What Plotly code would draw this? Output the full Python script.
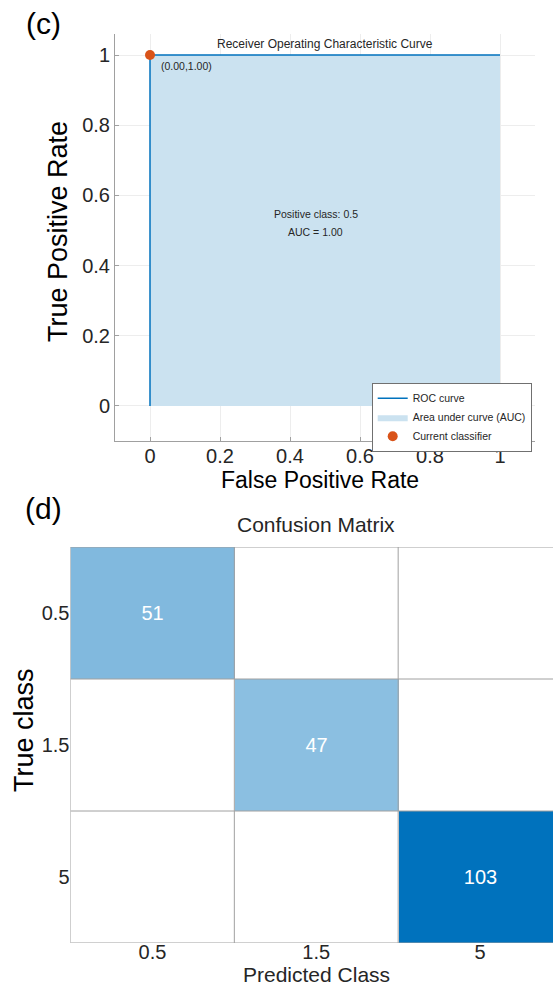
import plotly.graph_objects as go

W, H = 553, 987
FONT = "Liberation Sans, Arial, sans-serif"

# ROC data
fpr = [0.0, 0.0, 1.0]
tpr = [0.0, 1.0, 1.0]
current_fpr = [0.0]
current_tpr = [1.0]
auc_value = 1.00
positive_class = "0.5"

# Confusion matrix data
classes = ["0.5", "1.5", "5"]
cm = [[51, 0, 0],
      [0, 47, 0],
      [0, 0, 103]]

def px_x(p):
    return p / W

def px_y(p):
    return 1 - p / H

fig = go.Figure()

# ROC
fig.add_trace(go.Scatter(x=fpr, y=tpr, mode="lines", fill="tozeroy",
                         fillcolor="#CBE2F0", line=dict(width=0, color="#CBE2F0"),
                         name="Area under curve (AUC)", xaxis="x", yaxis="y",
                         hoverinfo="skip", legendrank=2))
fig.add_trace(go.Scatter(x=fpr, y=tpr, mode="lines", line=dict(color="#0072BD", width=1.5),
                         name="ROC curve", xaxis="x", yaxis="y", legendrank=1))
fig.add_trace(go.Scatter(x=current_fpr, y=current_tpr, mode="markers",
                         marker=dict(color="#D95319", size=10),
                         name="Current classifier", xaxis="x", yaxis="y", legendrank=3))

# Confusion matrix
idx = list(range(len(classes)))
text = [[str(v) if v > 0 else "" for v in row] for row in cm]
fig.add_trace(go.Heatmap(z=cm, x=idx, y=idx, zmin=0, zmax=max(max(r) for r in cm),
                         colorscale=[[0, "#FFFFFF"], [1, "#0072BD"]], showscale=False,
                         text=text, texttemplate="%{text}",
                         textfont=dict(color="white", size=20, family=FONT),
                         xaxis="x2", yaxis="y2", showlegend=False))

# cell borders
n = len(classes)
for k in range(n + 1):
    b = k - 0.5
    fig.add_shape(type="line", x0=b, x1=b, y0=-0.5, y1=n - 0.5, xref="x2", yref="y2",
                  line=dict(color="#A0A0A0", width=1))
    fig.add_shape(type="line", x0=-0.5, x1=n - 0.5, y0=b, y1=b, xref="x2", yref="y2",
                  line=dict(color="#A0A0A0", width=1))

roc_axis = dict(showline=True, linecolor="#A0A0A0", linewidth=1, ticks="inside",
                ticklen=4, tickcolor="#A0A0A0", showgrid=True, gridcolor="#EDEDED",
                zeroline=False, tickfont=dict(size=20, color="#262626", family=FONT),
                dtick=0.2, tick0=0, mirror=False)

cm_tickfont = dict(size=20, color="#262626", family=FONT)
cell_w = (562 - 70.5) / n

fig.update_layout(
    width=W, height=H, margin=dict(l=0, r=0, t=0, b=0),
    paper_bgcolor="white", plot_bgcolor="white",
    font=dict(family=FONT, color="#262626"),
    xaxis=dict(**roc_axis, domain=[px_x(115), px_x(535)], range=[-0.1, 1.1], anchor="y",
               ticklabelstandoff=-3),
    yaxis=dict(**roc_axis, domain=[px_y(441), px_y(34)], range=[-0.1, 1.06], anchor="x"),
    xaxis2=dict(domain=[px_x(70.5), 1.0],
                range=[-0.5, n - 0.5 - (562 - W) / cell_w], anchor="y2",
                tickvals=idx, ticktext=classes, showgrid=False, zeroline=False,
                showline=False, ticks="", tickfont=cm_tickfont, ticklabelstandoff=-5),
    yaxis2=dict(domain=[px_y(943), px_y(547)], range=[n - 0.5, -0.5], anchor="x2",
                tickvals=idx, ticktext=classes, showgrid=False, zeroline=False,
                showline=False, ticks="", tickfont=cm_tickfont),
    legend=dict(x=px_x(372), y=px_y(383), xanchor="left", yanchor="top",
                bgcolor="white", bordercolor="#333333", borderwidth=0.7,
                font=dict(size=10.5, color="#262626", family=FONT),
                tracegroupgap=0, itemwidth=30, traceorder="normal"),
    showlegend=True,
)

ann = []
def A(text, x, y, size, **kw):
    d = dict(text=text, x=px_x(x), y=px_y(y), xref="paper", yref="paper", showarrow=False,
             xanchor="center", yanchor="middle",
             font=dict(size=size, color=kw.pop("color", "#000000"), family=FONT))
    d.update(kw)
    ann.append(d)

A("(c)", 43, 23, 30)
A("Receiver Operating Characteristic Curve", 325, 44, 12, color="#262626")
A("True Positive Rate", 58, 232, 27, textangle=-90)
A("False Positive Rate", 320, 480, 23)
A("(d)", 43, 508, 30)
A("Confusion Matrix", 316, 524, 21, color="#262626")
A("True class", 24, 730, 27, textangle=-90)
A("Predicted Class", 316, 974, 21, color="#262626")

ann.append(dict(text="(0.00,1.00)", x=0.025, y=1.0, xref="x", yref="y", xanchor="left",
                yanchor="top", yshift=-3, showarrow=False,
                font=dict(size=10.5, color="#262626", family=FONT)))
ann.append(dict(text=f"Positive class: {positive_class}", x=0.474, y=0.546, xref="x", yref="y",
                xanchor="center", yanchor="middle",
                showarrow=False, font=dict(size=10.5, color="#262626", family=FONT)))
ann.append(dict(text=f"AUC = {auc_value:.2f}", x=0.474, y=0.497, xref="x", yref="y",
                xanchor="center", yanchor="middle",
                showarrow=False, font=dict(size=10.5, color="#262626", family=FONT)))

fig.update_layout(annotations=ann)
fig.write_html("out.html", config={"displayModeBar": False},
               post_script="document.body.style.margin='0';document.body.style.overflow='hidden';")
